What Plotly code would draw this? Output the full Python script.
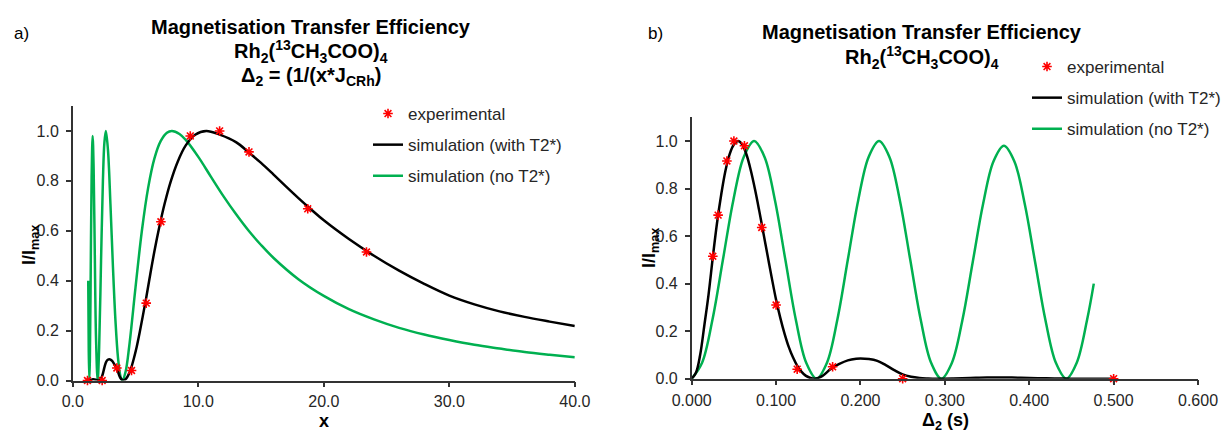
import plotly.graph_objects as go

# ---------------- data ----------------
# panel a) : x = 1/(Delta2*J_CRh)
a_exp_x = [1.17, 2.34, 3.51, 4.68, 5.85, 7.02, 9.36, 11.7, 14.04, 18.72, 23.4]
a_exp_y = [0.0, 0.0, 0.05, 0.04, 0.31, 0.636, 0.98, 1.0, 0.916, 0.688, 0.515]

a_t2_x = [1.17, 1.3, 1.45, 1.6, 1.75, 1.9, 2.02, 2.09, 2.17, 2.25, 2.34, 2.44, 2.54, 2.66,
          2.79, 2.925, 3.0, 3.16, 3.34, 3.55, 3.77, 4.01, 4.18, 4.33, 4.5, 4.68, 4.875, 5.09,
          5.32, 5.57, 5.85, 6.16, 6.5, 6.88, 7.31, 7.8, 8.36, 9.0, 9.75, 10.64, 11.7, 13, 14,
          15, 16, 17, 18, 19, 20, 22, 24, 26, 28, 30, 32, 34, 36, 38, 40]
a_t2_y = [0.0, 0.0, 0.002, 0.005, 0.004, 0.002, 0.0, 0.001, 0.003, 0.008, 0.018, 0.036, 0.057,
          0.075, 0.083, 0.085, 0.084, 0.077, 0.062, 0.042, 0.012, 0.0, 0.004, 0.013, 0.03, 0.055,
          0.09, 0.134, 0.19, 0.256, 0.332, 0.422, 0.517, 0.612, 0.707, 0.797, 0.877, 0.942,
          0.985, 1.0, 0.985, 0.955, 0.915, 0.872, 0.825, 0.777, 0.73, 0.685, 0.642, 0.567, 0.50,
          0.44, 0.387, 0.34, 0.305, 0.277, 0.255, 0.236, 0.218]

a_no_x = [1.23, 1.27, 1.318, 1.36, 1.42, 1.5, 1.581, 1.66, 1.75, 1.85, 1.98, 2.1, 2.25, 2.4,
          2.52, 2.635, 2.8, 3.0, 3.2, 3.4, 3.6, 3.8, 3.95, 4.2, 4.5, 5.0, 5.5, 6.0, 6.5, 7.0,
          7.5, 7.9, 8.5, 9, 10, 11, 12, 13, 14, 15, 16, 18, 20, 22, 24, 26, 28, 30, 32, 34, 36,
          38, 40]
a_no_y = [0.40, 0.12, 0.0, 0.082, 0.387, 0.813, 0.98, 0.85, 0.517, 0.17, 0.0, 0.131, 0.479,
          0.802, 0.955, 1.0, 0.925, 0.706, 0.454, 0.239, 0.092, 0.016, 0.0, 0.034, 0.139, 0.374,
          0.598, 0.771, 0.889, 0.959, 0.993, 1.0, 0.988, 0.964, 0.896, 0.817, 0.739, 0.667,
          0.601, 0.543, 0.491, 0.405, 0.339, 0.286, 0.245, 0.211, 0.184, 0.162, 0.143, 0.128,
          0.114, 0.103, 0.093]

# panel b) : Delta2 (s)
b_exp_x = [0.5, 0.25, 0.167, 0.125, 0.1, 0.083, 0.0625, 0.05, 0.0417, 0.0313, 0.025]
b_exp_y = [0.0, 0.0, 0.05, 0.04, 0.31, 0.636, 0.98, 1.0, 0.916, 0.688, 0.515]

b_t2_x = [0, 0.005, 0.01, 0.015, 0.02, 0.025, 0.03, 0.035, 0.04, 0.045, 0.05, 0.055, 0.06,
          0.065, 0.07, 0.075, 0.08, 0.085, 0.09, 0.095, 0.1, 0.105, 0.11, 0.115, 0.12, 0.125,
          0.13, 0.135, 0.14, 0.146, 0.155, 0.165, 0.175, 0.185, 0.195, 0.2, 0.21, 0.22, 0.23,
          0.24, 0.25, 0.26, 0.27, 0.28, 0.29, 0.31, 0.33, 0.35, 0.37, 0.39, 0.41, 0.43, 0.45,
          0.47, 0.5]
b_t2_y = [0.0, 0.025, 0.1, 0.225, 0.355, 0.51, 0.655, 0.775, 0.875, 0.945, 0.985, 1.0, 0.985,
          0.942, 0.877, 0.797, 0.707, 0.612, 0.517, 0.422, 0.332, 0.256, 0.19, 0.134, 0.09,
          0.055, 0.03, 0.013, 0.004, 0.0, 0.012, 0.042, 0.062, 0.077, 0.084, 0.085, 0.083,
          0.075, 0.057, 0.036, 0.018, 0.008, 0.003, 0.001, 0.0, 0.001, 0.003, 0.005, 0.005,
          0.004, 0.002, 0.001, 0.0, 0.0, 0.0]

b_no_x = [0, 0.0123, 0.0247, 0.037, 0.0493, 0.0617, 0.074, 0.0863, 0.0987, 0.111, 0.1233,
          0.1357, 0.148, 0.1603, 0.1727, 0.185, 0.1973, 0.2097, 0.222, 0.2343, 0.2467, 0.259,
          0.2713, 0.2837, 0.296, 0.3083, 0.3207, 0.333, 0.3453, 0.3577, 0.370, 0.3823, 0.3947,
          0.407, 0.4193, 0.4317, 0.444, 0.4563, 0.4687, 0.4765]
b_no_y = [0.0, 0.067, 0.25, 0.5, 0.75, 0.933, 1.0, 0.933, 0.75, 0.5, 0.25, 0.067, 0.0,
          0.067, 0.25, 0.5, 0.75, 0.933, 1.0, 0.933, 0.75, 0.5, 0.25, 0.067, 0.0,
          0.066, 0.245, 0.49, 0.735, 0.915, 0.98, 0.915, 0.735, 0.49, 0.245, 0.066, 0.0,
          0.067, 0.25, 0.40]

a_xticks = [0, 10, 20, 30, 40]
b_xticks = [0, 0.1, 0.2, 0.3, 0.4, 0.5, 0.6]
yticks = [0, 0.2, 0.4, 0.6, 0.8, 1.0]

# ---------------- styles ----------------
W, H = 1222, 437
ML, MR, MT, MB = 40, 12, 12, 6
PW, PH = W - ML - MR, H - MT - MB
FONT = "Liberation Sans, Arial, sans-serif"
GREEN = "#00B050"
AX = "#333333"
TXT = "#262626"

def px(v):
    return (v - ML) / PW

def py(v):
    return 1 - (v - MT) / PH

fig = go.Figure()

def add_panel(xa, ya, leg, gx, gy, bx, by, ex, ey):
    fig.add_trace(go.Scatter(x=gx, y=gy, mode="lines", name="simulation (no T2*)",
                             line=dict(color=GREEN, width=2.5, shape="spline", smoothing=1),
                             xaxis=xa, yaxis=ya, legend=leg, legendrank=3,
                             legendgroup=leg + "g"))
    fig.add_trace(go.Scatter(x=bx, y=by, mode="lines", name="simulation (with T2*)",
                             line=dict(color="black", width=2.5, shape="spline", smoothing=1),
                             xaxis=xa, yaxis=ya, legend=leg, legendrank=2,
                             legendgroup=leg + "b"))
    fig.add_trace(go.Scatter(x=ex, y=ey, mode="markers", name="experimental",
                             marker=dict(symbol="asterisk-open", size=8, color="red",
                                         line=dict(color="red", width=1.6)),
                             cliponaxis=False,
                             xaxis=xa, yaxis=ya, legend=leg, legendrank=1,
                             legendgroup=leg + "e"))

add_panel("x", "y", "legend", a_no_x, a_no_y, a_t2_x, a_t2_y, a_exp_x, a_exp_y)
add_panel("x2", "y2", "legend2", b_no_x, b_no_y, b_t2_x, b_t2_y, b_exp_x, b_exp_y)

axis_common = dict(showline=True, linecolor=AX, linewidth=1.5, ticks="outside", ticklen=5,
                   tickwidth=1.5, tickcolor=AX, showgrid=False, zeroline=False,
                   automargin=False,
                   tickfont=dict(family=FONT, size=16, color=TXT))

fig.update_layout(
    width=W, height=H, margin=dict(l=ML, r=MR, t=MT, b=MB, autoexpand=False),
    paper_bgcolor="white", plot_bgcolor="white",
    font=dict(family=FONT, color="black"),
    xaxis=dict(domain=[px(72.8), px(574.8)], range=[0, 40], tickvals=a_xticks,
               tickformat=".1f", anchor="y", ticklabelstandoff=1, **axis_common),
    yaxis=dict(domain=[py(380.5), py(106)], range=[0, 1.1], tickvals=yticks,
               tickformat=".1f", anchor="x", ticklabelstandoff=4, **axis_common),
    xaxis2=dict(domain=[px(691.7), px(1198)], range=[0, 0.6], tickvals=b_xticks,
                tickformat=".3f", anchor="y2", ticklabelstandoff=1, **axis_common),
    yaxis2=dict(domain=[py(378.7), py(117.2)], range=[0, 1.1], tickvals=yticks,
                tickformat=".1f", anchor="x2", ticklabelstandoff=4, **axis_common),
    legend=dict(x=px(368), y=py(96), xanchor="left", yanchor="top",
                font=dict(family=FONT, size=17, color=TXT), tracegroupgap=6,
                bgcolor="rgba(0,0,0,0)"),
    legend2=dict(x=px(1027), y=py(49), xanchor="left", yanchor="top",
                 font=dict(family=FONT, size=17, color=TXT), tracegroupgap=6,
                 bgcolor="rgba(0,0,0,0)"),
)

def ann(text, x, y, size, bold=False, xanchor="center", textangle=0):
    fig.add_annotation(text=("<b>%s</b>" % text) if bold else text,
                       x=px(x), y=py(y), xref="paper", yref="paper",
                       xanchor=xanchor, yanchor="middle", showarrow=False,
                       textangle=textangle,
                       font=dict(family=FONT, size=size, color="black"))

# titles
ann("Magnetisation Transfer Efficiency", 311, 27, 20, bold=True)
ann("Rh<sub>2</sub>(<sup>13</sup>CH<sub>3</sub>COO)<sub>4</sub>", 311, 52, 20, bold=True)
ann("Δ<sub>2</sub> = (1/(x*J<sub>CRh</sub>)", 311, 76, 20, bold=True)
ann("Magnetisation Transfer Efficiency", 922, 32, 20, bold=True)
ann("Rh<sub>2</sub>(<sup>13</sup>CH<sub>3</sub>COO)<sub>4</sub>", 922, 57, 20, bold=True)
ann("a)", 21, 34, 17)
ann("b)", 655, 33, 17)
# axis titles
ann("x", 323.8, 421, 18, bold=True)
ann("Δ<sub>2</sub> (s)", 945, 421, 18, bold=True)
ann("I/I<sub>max</sub>", 30, 245, 18, bold=True, textangle=-90)
ann("I/I<sub>max</sub>", 650, 248, 18, bold=True, textangle=-90)

fig.write_html("out.html", config={"displayModeBar": False},
               post_script="document.body.style.margin='0';document.body.style.padding='0';")
